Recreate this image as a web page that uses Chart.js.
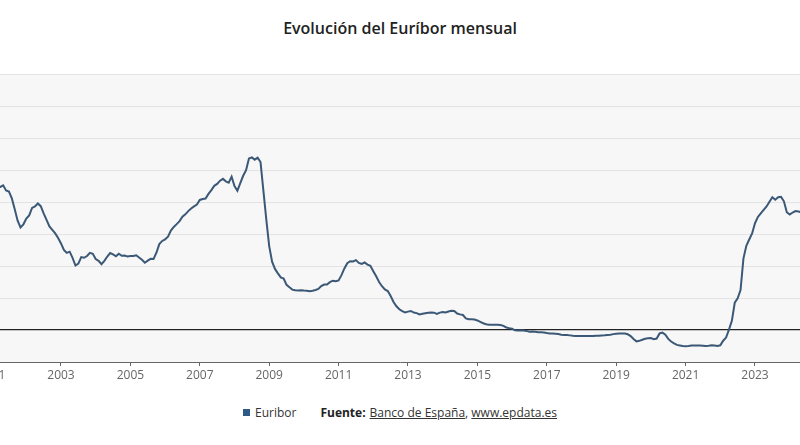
<!DOCTYPE html>
<html>
<head>
<meta charset="utf-8">
<script src="https://cdn.jsdelivr.net/npm/chart.js@4/dist/chart.umd.min.js"></script>
<style>
  html, body { margin:0; padding:0; background:#fff; width:800px; height:445px; overflow:hidden; position:relative; font-family:"Open Sans", "Liberation Sans", sans-serif; }
  #title { position:absolute; top:17px; left:0; width:800px; text-align:center; font-size:16px; font-weight:600; color:#222; }
  #wrap { position:absolute; top:0; left:-60px; width:920px; height:400px; }
  #foot { position:absolute; top:404px; left:0; width:800px; display:flex; justify-content:center; align-items:center; font-size:12px; color:#333; }
  #foot .sq { display:inline-block; width:7px; height:7px; margin-right:5px; }
  #foot .lg { margin-right:24px; }
  #foot b { font-weight:700; margin-right:4px; color:#222; }
  #foot u { color:#333; }
</style>
</head>
<body>
<div id="title">Evolución del Euríbor mensual</div>
<div id="wrap"><canvas id="c"></canvas></div>
<div id="foot"><span class="sq" id="sq"></span><span class="lg" id="lg"></span><b>Fuente:</b><u>Banco de España</u>,&nbsp;<u>www.epdata.es</u></div>
<script>
const seriesName = "Euribor";
const years = [2001,2002,2003,2004,2005,2006,2007,2008,2009,2010,2011,2012,2013,2014,2015,2016,2017,2018,2019,2020,2021,2022,2023,2024];
const v2001 = [4.575,4.590,4.468,4.472,4.520,4.361,4.326,4.111,3.771,3.418,3.204,3.303];
const v2002 = [3.484,3.582,3.816,3.859,3.955,3.869,3.642,3.440,3.236,3.126,3.017,2.872];
const v2003 = [2.705,2.504,2.411,2.447,2.252,2.014,2.076,2.279,2.258,2.312,2.411,2.381];
const v2004 = [2.216,2.163,2.055,2.163,2.297,2.404,2.361,2.302,2.385,2.320,2.328,2.301];
const v2005 = [2.312,2.310,2.335,2.265,2.193,2.103,2.168,2.223,2.220,2.414,2.684,2.783];
const v2006 = [2.833,2.914,3.105,3.221,3.308,3.401,3.539,3.615,3.715,3.799,3.864,3.921];
const v2007 = [4.064,4.094,4.106,4.253,4.373,4.505,4.564,4.666,4.725,4.647,4.607,4.793];
const v2008 = [4.498,4.349,4.590,4.820,4.994,5.361,5.393,5.323,5.384,5.248,4.350,3.452];
const v2009 = [2.622,2.135,1.909,1.771,1.644,1.610,1.412,1.334,1.261,1.243,1.231,1.242];
const v2010 = [1.232,1.225,1.215,1.225,1.249,1.281,1.373,1.421,1.420,1.495,1.541,1.526];
const v2011 = [1.550,1.714,1.924,2.086,2.147,2.144,2.183,2.097,2.067,2.110,2.044,2.004];
const v2012 = [1.837,1.678,1.499,1.368,1.266,1.219,1.061,0.877,0.740,0.650,0.588,0.549];
const v2013 = [0.575,0.594,0.545,0.528,0.484,0.507,0.525,0.542,0.543,0.541,0.506,0.543];
const v2014 = [0.562,0.549,0.577,0.604,0.592,0.513,0.488,0.469,0.362,0.338,0.335,0.329];
const v2015 = [0.298,0.255,0.212,0.180,0.165,0.163,0.167,0.161,0.154,0.128,0.079,0.059];
const v2016 = [0.042,-0.008,-0.012,-0.010,-0.013,-0.028,-0.051,-0.048,-0.057,-0.069,-0.074,-0.080];
const v2017 = [-0.095,-0.106,-0.110,-0.119,-0.127,-0.149,-0.154,-0.156,-0.168,-0.180,-0.189,-0.190];
const v2018 = [-0.189,-0.191,-0.191,-0.190,-0.188,-0.181,-0.180,-0.169,-0.166,-0.154,-0.147,-0.129];
const v2019 = [-0.116,-0.108,-0.109,-0.112,-0.134,-0.190,-0.283,-0.356,-0.339,-0.304,-0.272,-0.261];
const v2020 = [-0.253,-0.288,-0.266,-0.108,-0.081,-0.147,-0.279,-0.359,-0.415,-0.466,-0.481,-0.497];
const v2021 = [-0.505,-0.501,-0.487,-0.484,-0.481,-0.484,-0.491,-0.498,-0.492,-0.477,-0.487,-0.502];
const v2022 = [-0.477,-0.335,-0.237,0.013,0.287,0.852,0.992,1.249,2.233,2.629,2.828,3.018];
const v2023 = [3.337,3.534,3.647,3.757,3.862,4.007,4.149,4.073,4.149,4.160,4.022,3.679];
const v2024 = [3.609,3.671,3.718,3.703,3.680,3.650];
const yearValues = [v2001,v2002,v2003,v2004,v2005,v2006,v2007,v2008,v2009,v2010,v2011,v2012,v2013,v2014,v2015,v2016,v2017,v2018,v2019,v2020,v2021,v2022,v2023,v2024];
const tickYears = [2001,2003,2005,2007,2009,2011,2013,2015,2017,2019,2021,2023,2025];
const yTicks = [-1,0,1,2,3,4,5,6,7,8];

const lineColor = "#3b5877";
const legendColor = "#2e5a86";
document.getElementById('sq').style.background = legendColor;
document.getElementById('lg').textContent = seriesName;

const points = [];
years.forEach((y, i) => yearValues[i].forEach((v, m) => points.push({x: y + m/12, y: v})));

const bgPlugin = {
  id: 'plotBg',
  beforeDraw(chart) {
    const a = chart.chartArea, ctx = chart.ctx;
    ctx.save(); ctx.fillStyle = '#f7f7f7';
    ctx.fillRect(a.left, a.top, a.right - a.left, a.bottom - a.top);
    ctx.restore();
  }
};

new Chart(document.getElementById('c'), {
  type: 'line',
  data: { datasets: [{ label: seriesName, data: points, borderColor: lineColor, backgroundColor: legendColor, borderWidth: 2, pointRadius: 0, tension: 0 }] },
  options: {
    responsive: true, maintainAspectRatio: false, animation: false,
    layout: { padding: { top: 74, left: 0, right: 0, bottom: 0 } },
    plugins: { legend: { display: false }, tooltip: { enabled: false } },
    scales: {
      x: {
        type: 'linear', min: 1999.513, max: 2026.026,
        afterBuildTicks: s => { s.ticks = tickYears.filter(v => v >= s.min && v <= s.max).map(v => ({ value: v })); },
        afterFit: s => { s.height = 38; },
        grid: { drawOnChartArea: false, drawTicks: true, tickLength: 4, color: '#666' },
        border: { color: '#666', width: 1 },
        ticks: { color: '#666', font: { family: '"Open Sans", sans-serif', size: 12 }, padding: 2, maxRotation: 0, autoSkip: false, callback: v => String(v) }
      },
      y: {
        min: -1, max: 8,
        afterBuildTicks: s => { s.ticks = yTicks.map(v => ({ value: v })); },
        afterFit: s => { s.width = 0; },
        grid: { drawTicks: false, color: c => c.tick && c.tick.value === 0 ? '#222' : '#e3e3e3', lineWidth: c => c.tick && c.tick.value === 0 ? 1.3 : 1 },
        border: { display: false },
        ticks: { display: false }
      }
    }
  },
  plugins: [bgPlugin]
});
</script>
</body>
</html>
